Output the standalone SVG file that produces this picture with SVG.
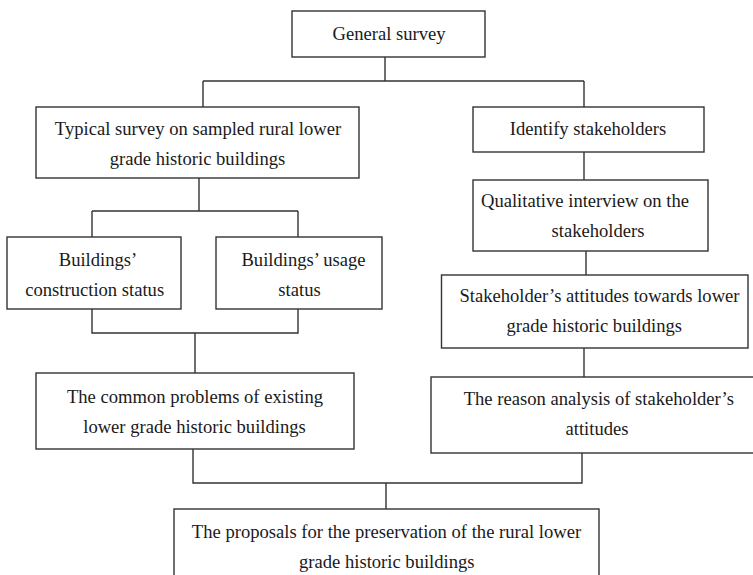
<svg xmlns="http://www.w3.org/2000/svg" width="753" height="575" viewBox="0 0 753 575">
<style>
.box{fill:#fff;stroke:#333;stroke-width:1.4}
.c{fill:none;stroke:#333;stroke-width:1.4}
text{font-family:"Liberation Serif","Times New Roman",serif;font-size:18.6px;fill:#1a1a1a;text-anchor:middle}
</style>
<rect width="753" height="575" fill="#fff"/>
<g id="connectors">
<path class="c" d="M385,57 V81 M203,81 H584 M203,81 V107 M584,81 V107"/>
<path class="c" d="M584,152 V180"/>
<path class="c" d="M586,251 V275"/>
<path class="c" d="M584,348 V377"/>
<path class="c" d="M199,178 V211 M92,211 H298 M92,211 V237 M298,211 V237"/>
<path class="c" d="M92,309 V333 H298 V309 M195,333 V373"/>
<path class="c" d="M193,449 V483 H582 V453 M386,483 V509"/>
</g>
<g id="general">
<rect class="box" x="292" y="11" width="193" height="46"/>
<text x="389" y="40">General survey</text>
</g>
<g id="typical">
<rect class="box" x="36" y="107" width="323" height="71"/>
<text x="198" y="135">Typical survey on sampled rural lower</text>
<text x="197.5" y="165">grade historic buildings</text>
</g>
<g id="identify">
<rect class="box" x="473" y="107" width="231" height="45"/>
<text x="588" y="135">Identify stakeholders</text>
</g>
<g id="qualitative">
<rect class="box" x="473" y="180" width="235" height="71"/>
<text x="585" y="207">Qualitative interview on the</text>
<text x="598" y="237">stakeholders</text>
</g>
<g id="construction">
<rect class="box" x="7" y="237" width="174" height="72"/>
<text x="98" y="266">Buildings’</text>
<text x="94.7" y="296">construction status</text>
</g>
<g id="usage">
<rect class="box" x="216" y="237" width="166" height="72"/>
<text x="303.5" y="266">Buildings’ usage</text>
<text x="299.5" y="296">status</text>
</g>
<g id="attitudes">
<rect class="box" x="441.5" y="275" width="306.5" height="73"/>
<text x="599.5" y="302">Stakeholder’s attitudes towards lower</text>
<text x="594.3" y="332">grade historic buildings</text>
</g>
<g id="common">
<rect class="box" x="36" y="373" width="318" height="76"/>
<text x="195" y="403">The common problems of existing</text>
<text x="194.5" y="433">lower grade historic buildings</text>
</g>
<g id="reason">
<rect class="box" x="431" y="377" width="335" height="76"/>
<text x="598.8" y="405">The reason analysis of stakeholder’s</text>
<text x="597" y="435">attitudes</text>
</g>
<g id="proposals">
<rect class="box" x="174" y="509" width="425" height="75"/>
<text x="386.5" y="538">The proposals for the preservation of the rural lower</text>
<text x="386.8" y="568">grade historic buildings</text>
</g>
</svg>
